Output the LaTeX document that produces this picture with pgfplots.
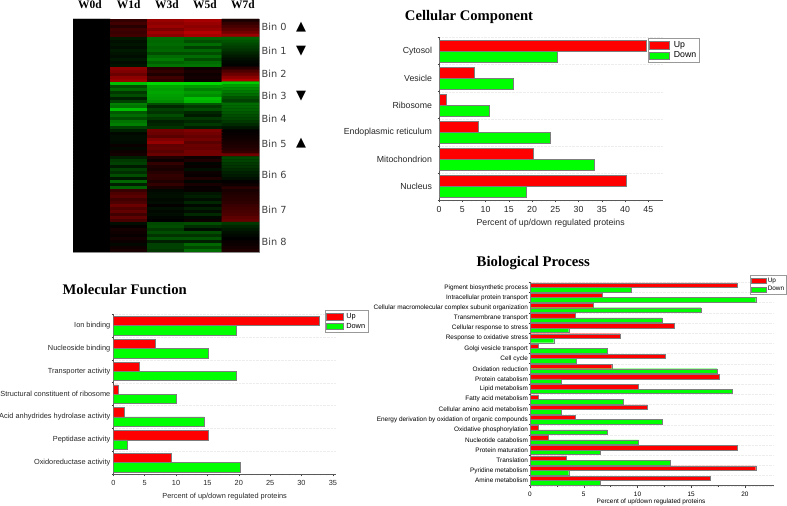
\documentclass[border=0pt]{standalone}
\usepackage{fontspec}
\usepackage{pgfplots}
\pgfplotsset{compat=1.18}
\setmainfont{Liberation Sans}
\newfontfamily\serifbold[BoldFont=Liberation Serif Bold]{Liberation Serif}
\newfontfamily\binfont{DejaVu Sans}
\definecolor{upred}{RGB}{255,0,0}
\definecolor{downgreen}{RGB}{0,255,0}
\definecolor{baredge}{RGB}{125,125,125}
\newcommand{\fs}[1]{\fontsize{#1}{#1}\selectfont}
\pgfplotsset{
  gobars/.style={
    scale only axis, y dir=reverse, xmin=0,
    axis x line*=bottom, axis y line*=left,
    axis line style={-, draw=black!65, line width=0.8bp},
    /pgf/number format/assume math mode=true,
    ytick=data, tick align=outside,
    every major y tick/.style={draw=none},
    major tick length=2.5bp, minor tick length=1.5bp,
    tick style={black!75, line width=0.5bp},
    yminorgrids=true,
    minor grid style={black!7, densely dotted, line width=0.3bp},
    legend cell align=left,
  },
  % patch size of the legend, half height and width
  patch/.style 2 args={legend image code/.code={\draw[##1] (0bp,-#1) rectangle (#2,#1);}},
  upbar/.style={xbar, fill=upred, draw=baredge, line width=0.5bp},
  downbar/.style={xbar, fill=downgreen, draw=baredge, line width=0.5bp},
}
\begin{document}
\begin{tikzpicture}[x=1bp,y=1bp]
\path[use as bounding box] (0,0) rectangle (787,506);

% heatmap
\begin{axis}[
  at={(73bp,254bp)}, anchor=south west, scale only axis, width=186bp, height=233bp,
  xmin=-0.5, xmax=4.5, ymin=-0.5, ymax=77.5, y dir=reverse,
  xtick=\empty, ytick=\empty,
  axis line style={draw=black!45, line width=0.6bp},
  axis background/.style={fill=black},
  colormap={gbr}{rgb255=(0,255,0) rgb255=(0,0,0) rgb255=(255,0,0)},
  point meta min=-1, point meta max=1,
]
\addplot[matrix plot*, mesh/cols=5, point meta=explicit, draw=mapped color, line width=0.25bp] coordinates {
(0,0)[0](1,0)[.2](2,0)[.6](3,0)[.65](4,0)[.1]
(0,1)[0](1,1)[.25](2,1)[.55](3,1)[.6](4,1)[.2]
(0,2)[0](1,2)[.15](2,2)[.6](3,2)[.55](4,2)[.28]
(0,3)[0](1,3)[.25](2,3)[.5](3,3)[.6](4,3)[.35]
(0,4)[0](1,4)[.22](2,4)[.62](3,4)[.72](4,4)[.45]
(0,5)[0](1,5)[.25](2,5)[.55](3,5)[.65](4,5)[.6]
(0,6)[0](1,6)[-.1](2,6)[-.42](3,6)[-.38](4,6)[-.38]
(0,7)[0](1,7)[-.06](2,7)[-.4](3,7)[-.3](4,7)[-.33]
(0,8)[0](1,8)[-.08](2,8)[-.42](3,8)[-.42](4,8)[-.28]
(0,9)[0](1,9)[-.05](2,9)[-.38](3,9)[-.25](4,9)[-.24]
(0,10)[0](1,10)[-.1](2,10)[-.4](3,10)[-.4](4,10)[-.2]
(0,11)[0](1,11)[-.07](2,11)[-.3](3,11)[-.3](4,11)[-.15]
(0,12)[0](1,12)[-.05](2,12)[-.42](3,12)[-.42](4,12)[-.1]
(0,13)[0](1,13)[-.09](2,13)[-.48](3,13)[-.3](4,13)[-.06]
(0,14)[0](1,14)[-.05](2,14)[-.38](3,14)[-.42](4,14)[-.03]
(0,15)[0](1,15)[-.08](2,15)[-.45](3,15)[-.45](4,15)[-.01]
(0,16)[0](1,16)[.55](2,16)[.15](3,16)[.05](4,16)[.15]
(0,17)[0](1,17)[.5](2,17)[.2](3,17)[.1](4,17)[.3]
(0,18)[0](1,18)[.42](2,18)[.12](3,18)[.05](4,18)[.42]
(0,19)[0](1,19)[.55](2,19)[.25](3,19)[.08](4,19)[.55]
(0,20)[0](1,20)[.6](2,20)[.2](3,20)[.05](4,20)[.7]
(0,21)[0](1,21)[-.75](2,21)[-.85](3,21)[-.85](4,21)[-.8]
(0,22)[0](1,22)[-.3](2,22)[-.65](3,22)[-.6](4,22)[-.62]
(0,23)[0](1,23)[-.4](2,23)[-.62](3,23)[-.5](4,23)[-.55]
(0,24)[0](1,24)[-.22](2,24)[-.65](3,24)[-.6](4,24)[-.48]
(0,25)[0](1,25)[-.3](2,25)[-.62](3,25)[-.55](4,25)[-.42]
(0,26)[0](1,26)[-.12](2,26)[-.6](3,26)[-.75](4,26)[-.33]
(0,27)[0](1,27)[-.25](2,27)[-.55](3,27)[-.7](4,27)[-.25]
(0,28)[0](1,28)[-.5](2,28)[-.3](3,28)[-.35](4,28)[-.42]
(0,29)[0](1,29)[-.45](2,29)[-.15](3,29)[-.22](4,29)[-.4]
(0,30)[0](1,30)[-.75](2,30)[-.25](3,30)[-.3](4,30)[-.38]
(0,31)[0](1,31)[-.35](2,31)[-.2](3,31)[-.15](4,31)[-.34]
(0,32)[0](1,32)[-.42](2,32)[-.3](3,32)[-.1](4,32)[-.3]
(0,33)[0](1,33)[-.3](2,33)[-.22](3,33)[-.22](4,33)[-.27]
(0,34)[0](1,34)[-.45](2,34)[-.12](3,34)[-.15](4,34)[-.22]
(0,35)[0](1,35)[-.5](2,35)[-.15](3,35)[-.22](4,35)[-.16]
(0,36)[0](1,36)[-.25](2,36)[-.2](3,36)[-.12](4,36)[-.08]
(0,37)[0](1,37)[-.12](2,37)[.45](3,37)[.5](4,37)[.02]
(0,38)[0](1,38)[-.03](2,38)[.42](3,38)[.45](4,38)[.03]
(0,39)[0](1,39)[-.05](2,39)[.35](3,39)[.4](4,39)[.05]
(0,40)[0](1,40)[-.05](2,40)[.5](3,40)[.45](4,40)[.07]
(0,41)[0](1,41)[-.04](2,41)[.58](3,41)[.35](4,41)[.1]
(0,42)[0](1,42)[.04](2,42)[.38](3,42)[.42](4,42)[.12]
(0,43)[0](1,43)[-.03](2,43)[.4](3,43)[.4](4,43)[.15]
(0,44)[0](1,44)[.06](2,44)[.35](3,44)[.45](4,44)[.2]
(0,45)[0](1,45)[.08](2,45)[.42](3,45)[.45](4,45)[.45]
(0,46)[0](1,46)[-.12](2,46)[.12](3,46)[.05](4,46)[-.28]
(0,47)[0](1,47)[-.22](2,47)[.05](3,47)[.12](4,47)[-.26]
(0,48)[0](1,48)[-.25](2,48)[.2](3,48)[-.02](4,48)[-.22]
(0,49)[0](1,49)[-.1](2,49)[.12](3,49)[.03](4,49)[-.2]
(0,50)[0](1,50)[-.25](2,50)[.1](3,50)[-.06](4,50)[-.17]
(0,51)[0](1,51)[-.18](2,51)[.15](3,51)[.05](4,51)[-.13]
(0,52)[0](1,52)[-.3](2,52)[.2](3,52)[.03](4,52)[-.1]
(0,53)[0](1,53)[-.08](2,53)[.18](3,53)[.12](4,53)[-.06]
(0,54)[0](1,54)[-.4](2,54)[.12](3,54)[-.02](4,54)[.02]
(0,55)[0](1,55)[-.12](2,55)[.2](3,55)[.1](4,55)[.06]
(0,56)[0](1,56)[-.38](2,56)[.1](3,56)[.03](4,56)[.16]
(0,57)[0](1,57)[.22](2,57)[-.03](3,57)[.03](4,57)[.1]
(0,58)[0](1,58)[.3](2,58)[-.05](3,58)[-.08](4,58)[.12]
(0,59)[0](1,59)[.35](2,59)[-.06](3,59)[-.12](4,59)[.14]
(0,60)[0](1,60)[.25](2,60)[-.03](3,60)[-.05](4,60)[.16]
(0,61)[0](1,61)[.3](2,61)[-.05](3,61)[-.15](4,61)[.18]
(0,62)[0](1,62)[.42](2,62)[.02](3,62)[-.03](4,62)[.22]
(0,63)[0](1,63)[.32](2,63)[-.06](3,63)[-.12](4,63)[.25]
(0,64)[0](1,64)[.38](2,64)[-.03](3,64)[-.05](4,64)[.28]
(0,65)[0](1,65)[.25](2,65)[-.05](3,65)[-.16](4,65)[.3]
(0,66)[0](1,66)[.38](2,66)[-.02](3,66)[-.03](4,66)[.36]
(0,67)[0](1,67)[.28](2,67)[0](3,67)[.05](4,67)[.4]
(0,68)[0](1,68)[-.05](2,68)[-.28](3,68)[-.3](4,68)[-.22]
(0,69)[0](1,69)[.02](2,69)[-.3](3,69)[-.18](4,69)[-.15]
(0,70)[0](1,70)[.08](2,70)[-.22](3,70)[-.05](4,70)[-.1]
(0,71)[0](1,71)[.06](2,71)[-.3](3,71)[-.3](4,71)[-.06]
(0,72)[0](1,72)[.03](2,72)[-.2](3,72)[-.2](4,72)[-.03]
(0,73)[0](1,73)[.08](2,73)[-.32](3,73)[-.33](4,73)[0]
(0,74)[0](1,74)[.04](2,74)[-.12](3,74)[-.12](4,74)[.03]
(0,75)[0](1,75)[-.03](2,75)[-.25](3,75)[-.4](4,75)[.05]
(0,76)[0](1,76)[.06](2,76)[-.25](3,76)[-.28](4,76)[.08]
(0,77)[0](1,77)[.1](2,77)[-.22](3,77)[-.42](4,77)[.12]
};
\end{axis}
\foreach \xx/\tt in {90/W0d,128.6/W1d,167/W3d,205/W5d,243/W7d}
  \node[font=\serifbold\bfseries\fs{11.5}, inner sep=0pt] at (\xx,501.5) {\tt};
\foreach \yy/\tt in {27/Bin 0,51/Bin 1,74/Bin 2,96/Bin 3,118.7/Bin 4,144/Bin 5,175/Bin 6,210/Bin 7,242/Bin 8}
  \node[font=\binfont\fs{9.8}, anchor=west, inner sep=0pt, text=black!75] at (261.5,506-\yy) {\tt};
\foreach \yy/\tt in {27/▲,51/▼,96/▼,143/▲}
  \node[font=\binfont\fs{13}, inner sep=0pt] at (301,506-\yy) {\tt};

% titles
\node[font=\serifbold\bfseries\fs{14.7}, inner sep=0pt] at (469,489) {Cellular Component};
\node[font=\serifbold\bfseries\fs{14.7}, inner sep=0pt] at (124.7,216) {Molecular Function};
\node[font=\serifbold\bfseries\fs{14.8}, inner sep=0pt] at (533.3,242.7) {Biological Process};

% cellular component
\begin{axis}[gobars, patch={3.7bp}{20bp},
  at={(439bp,306bp)}, anchor=south west, width=223.7bp, height=162.5bp,
  xmax=48.1, ymin=-0.5, ymax=5.5,
  xtick={0,5,...,45}, minor x tick num=4,
  minor ytick={-0.5,0.5,...,5.5},
  yticklabels={Cytosol,Vesicle,Ribosome,Endoplasmic reticulum,Mitochondrion,Nucleus},
  ticklabel style={font=\fs{8.8}, text=black!85},
  yticklabel style={xshift=-1bp},
  xlabel={Percent of up/down regulated proteins},
  x label style={at={(axis description cs:0.499,-0.14)}, anchor=center, font=\fs{8.8}, text=black!85},
  legend style={at={(axis description cs:0.934,0.997)}, anchor=north west, font=\fs{8.8},
    draw=black!40, line width=0.9bp, inner sep=1bp, row sep=-1bp, /tikz/column 1/.style={column sep=2bp}},
]
\addplot[upbar, bar width=11bp, bar shift=5.5bp] coordinates {
  (44.5,0) (7.5,1) (1.6,2) (8.4,3) (20.2,4) (40.3,5)};
\addlegendentry{Up}
\addplot[downbar, bar width=11bp, bar shift=-5.5bp] coordinates {
  (25.4,0) (15.9,1) (10.9,2) (23.9,3) (33.3,4) (18.8,5)};
\addlegendentry{Down}
\end{axis}

% molecular function
\begin{axis}[gobars, patch={3.3bp}{16.5bp},
  at={(113.3bp,32bp)}, anchor=south west, width=222.7bp, height=159.7bp,
  xmax=35.5, ymin=-0.5, ymax=6.5,
  xtick={0,5,...,35}, minor x tick num=4,
  minor ytick={-0.5,0.5,...,6.5},
  yticklabels={Ion binding,Nucleoside binding,Transporter activity,Structural constituent of ribosome,Acid anhydrides hydrolase activity,Peptidase activity,Oxidoreductase activity},
  ticklabel style={font=\fs{7.4}, text=black!85},
  yticklabel style={xshift=3bp},
  xlabel={Percent of up/down regulated proteins},
  x label style={at={(axis description cs:0.5,-0.142)}, anchor=center, font=\fs{7.4}, text=black!85},
  legend style={at={(axis description cs:0.95,1.027)}, anchor=north west, font=\fs{7.4},
    draw=black!40, line width=0.8bp, inner sep=1bp, row sep=-1bp, /tikz/column 1/.style={column sep=1bp}},
]
\addplot[upbar, bar width=9.3bp, bar shift=4.65bp] coordinates {
  (32.8,0) (6.7,1) (4.2,2) (0.8,3) (1.7,4) (15.1,5) (9.2,6)};
\addlegendentry{Up}
\addplot[downbar, bar width=9.3bp, bar shift=-4.65bp] coordinates {
  (19.6,0) (15.2,1) (19.6,2) (10.1,3) (14.5,4) (2.2,5) (20.3,6)};
\addlegendentry{Down}
\end{axis}

% biological process
\begin{axis}[gobars, patch={2.4bp}{15bp},
  at={(530bp,20.3bp)}, anchor=south west, width=244bp, height=203.4bp,
  xmax=22.7, ymin=-0.5, ymax=19.5,
  xtick={0,5,...,20}, minor x tick num=1,
  minor ytick={-0.5,0.5,...,19.5},
  ytick={0,...,19},
  yticklabels={Pigment biosynthetic process,Intracellular protein transport,Cellular macromolecular complex subunit organization,Transmembrane transport,Cellular response to stress,Response to oxidative stress,Golgi vesicle transport,Cell cycle,Oxidation reduction,Protein catabolism,Lipid metabolism,Fatty acid metabolism,Cellular amino acid metabolism,Energy derivation by oxidation of organic compounds,Oxidative phosphorylation,Nucleotide catabolism,Protein maturation,Translation,Pyridine metabolism,Amine metabolism},
  ticklabel style={font=\fs{6.45}, text=black},
  yticklabel style={xshift=4bp},
  xlabel={Percent of up/down regulated proteins},
  x label style={at={(axis description cs:0.496,-0.08)}, anchor=center, font=\fs{6.45}, text=black},
  legend style={at={(axis description cs:0.902,1.035)}, anchor=north west, font=\fs{6.45},
    draw=black!40, line width=0.7bp, inner sep=0.5bp, row sep=-1.5bp, /tikz/column 1/.style={column sep=0bp},
    nodes={inner xsep=1.5bp}},
]
\addplot[upbar, bar width=4.5bp, bar shift=2.25bp, line width=0.3bp] coordinates {
  (19.3,0) (6.7,1) (5.9,2) (4.2,3) (13.4,4) (8.4,5) (0.8,6) (12.6,7) (7.6,8) (17.6,9)
  (10.1,10) (0.8,11) (10.9,12) (4.2,13) (0.8,14) (1.7,15) (19.3,16) (3.4,17) (21,18) (16.8,19)};
\addlegendentry{Up}
\addplot[downbar, bar width=4.5bp, bar shift=-2.25bp, line width=0.3bp] coordinates {
  (9.4,0) (21,1) (15.9,2) (12.3,3) (3.6,4) (2.2,5) (7.2,6) (4.3,7) (17.4,8) (2.9,9)
  (18.8,10) (8.7,11) (2.9,12) (12.3,13) (7.2,14) (10.1,15) (6.5,16) (13,17) (3.6,18) (6.5,19)};
\addlegendentry{Down}
\end{axis}
\end{tikzpicture}
\end{document}
